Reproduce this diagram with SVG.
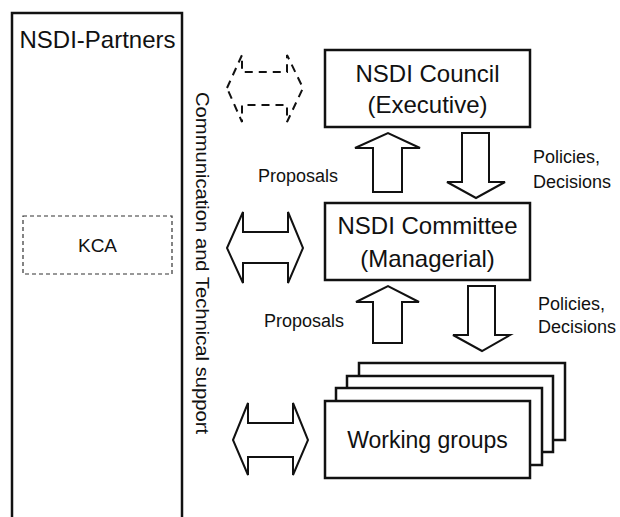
<svg xmlns="http://www.w3.org/2000/svg" width="620" height="517" viewBox="0 0 620 517">
<style>
text{font-family:"Liberation Sans",Arial,sans-serif;fill:#111}
.big{font-size:24px;text-anchor:middle}
.lbl{font-size:18px}
.box{fill:#fff;stroke:#111;stroke-width:2.5}
.arr{fill:#fff;stroke:#111;stroke-width:2;stroke-linejoin:miter}
</style>
<rect width="620" height="517" fill="#fff"/>
<g id="partners">
<rect x="12" y="13" width="170" height="520" fill="#fff" stroke="#111" stroke-width="2.5"/>
<text class="big" x="97.5" y="48">NSDI-Partners</text>
</g>
<g id="kca">
<rect x="23" y="216" width="149" height="58" fill="none" stroke="#333" stroke-width="1.2" stroke-dasharray="4 3"/>
<text x="97.5" y="252" style="font-size:19px;text-anchor:middle">KCA</text>
</g>
<g id="comm-label">
<text transform="translate(196,92) rotate(90)" style="font-size:19px" textLength="342" lengthAdjust="spacingAndGlyphs">Communication and Technical support</text>
</g>
<g id="council">
<rect class="box" x="325" y="50" width="205" height="77"/>
<text class="big" x="427.5" y="82">NSDI Council</text>
<text class="big" x="427.5" y="113">(Executive)</text>
</g>
<g id="committee">
<rect class="box" x="325" y="203" width="205" height="77"/>
<text class="big" x="427.5" y="234">NSDI Committee</text>
<text class="big" x="427.5" y="267">(Managerial)</text>
</g>
<g id="working-groups">
<rect class="box" x="359" y="363" width="206" height="77"/>
<rect class="box" x="347" y="376" width="206" height="76"/>
<rect class="box" x="336" y="388" width="206" height="77"/>
<rect class="box" x="325" y="401" width="205" height="77"/>
<text x="427.5" y="448" style="font-size:23px;text-anchor:middle">Working groups</text>
</g>
<g id="connectors">
<polygon class="arr" points="227,88 242,55 242,72 287,72 287,55 303,88 287,122 287,105 242,105 242,122" stroke-dasharray="8 6"/>
<polygon class="arr" points="227,248 243,212 243,232 288,232 288,212 303,248 288,283 288,263 243,263 243,283"/>
<polygon class="arr" points="233,440 248,403 248,423 293,423 293,403 308,440 293,475 293,457 248,457 248,475"/>
<polygon class="arr" points="373,192 373,148 355,148 388,133 420,148 402,148 402,192"/>
<polygon class="arr" points="462,133 489,133 489,182 505,182 476,198 447,182 462,182"/>
<polygon class="arr" points="373,343 373,302 356,302 388,286 419,302 402,302 402,343"/>
<polygon class="arr" points="468,286 495,286 495,335 510,335 482,351 453,335 468,335"/>
<text class="lbl" x="258" y="182">Proposals</text>
<text class="lbl" x="533" y="163">Policies,</text>
<text class="lbl" x="533" y="188">Decisions</text>
<text class="lbl" x="264" y="327">Proposals</text>
<text class="lbl" x="538" y="310">Policies,</text>
<text class="lbl" x="538" y="333">Decisions</text>
</g>
</svg>
